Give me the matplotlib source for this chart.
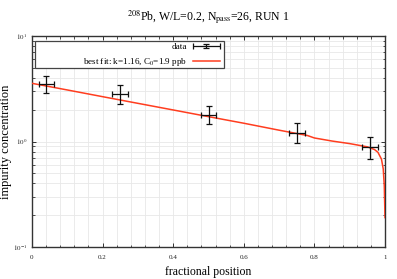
import matplotlib
matplotlib.use("Agg")
import matplotlib.pyplot as plt
from matplotlib.patches import Rectangle
from matplotlib.ticker import MultipleLocator, LogLocator, FixedLocator, FixedFormatter
from matplotlib.legend_handler import HandlerErrorbar
from matplotlib.container import ErrorbarContainer

plt.rcParams['font.family'] = ['Liberation Serif', 'DejaVu Serif']
plt.rcParams['mathtext.fontset'] = 'stix'

# data points
data_x = [0.04, 0.25, 0.50, 0.75, 0.958]
data_y = [3.5, 2.82, 1.77, 1.20, 0.893]
data_yerr_lo = [0.63, 0.57, 0.30, 0.225, 0.206]
data_yerr_hi = [0.70, 0.61, 0.40, 0.29, 0.207]
data_xerr = [0.021, 0.023, 0.022, 0.022, 0.023]

# best-fit curve
fit_x = [0.0, 0.1, 0.2, 0.3, 0.4, 0.5, 0.6, 0.7, 0.78, 0.80, 0.85, 0.90,
         0.95, 0.97, 0.98, 0.99, 0.995, 0.998, 1.0]
fit_y = [3.56, 3.08, 2.66, 2.30, 1.99, 1.72, 1.49, 1.28, 1.14, 1.08, 1.01,
         0.955, 0.89, 0.84, 0.79, 0.68, 0.55, 0.38, 0.19]

x_ticks = [0, 0.2, 0.4, 0.6, 0.8, 1.0]
x_ticklabels = ["0", "0.2", "0.4", "0.6", "0.8", "1"]
y_ticks = [0.1, 1, 10]
y_ticklabels = ["$10^{-1}$", "$10^{0}$", "$10^{1}$"]

title = "$^{208}$Pb, W/L=0.2, N$_{\\mathrm{pass}}$=26, RUN 1"
label_data = "data"
label_fit = "best fit: k=1.16, C$_0$=1.9 ppb"

fig = plt.figure(figsize=(3.97, 2.79), dpi=100)
ax = fig.add_axes([32/397, 1-247/279, 353/397, 211/279])

ax.set_yscale('log')
ax.set_xlim(0, 1)
ax.set_ylim(0.1, 10)

fit_line, = ax.plot(fit_x, fit_y, color='#ff3d1f', lw=1.1, label=label_fit, zorder=3)
eb = ax.errorbar(data_x, data_y, yerr=[data_yerr_lo, data_yerr_hi], xerr=data_xerr,
                 fmt='none', ecolor='#111111', elinewidth=0.9, capsize=2.0,
                 capthick=0.9, label=label_data, zorder=4)

ax.xaxis.set_major_locator(FixedLocator(x_ticks))
ax.xaxis.set_major_formatter(FixedFormatter(x_ticklabels))
ax.xaxis.set_minor_locator(MultipleLocator(0.04))
ax.yaxis.set_major_locator(FixedLocator(y_ticks))
ax.yaxis.set_major_formatter(FixedFormatter(y_ticklabels))
ax.yaxis.set_minor_locator(LogLocator(base=10, subs=range(2, 10)))

ax.grid(True, which='both', color='#e8e8e8', lw=0.6, zorder=0)
ax.set_axisbelow(True)
ax.tick_params(which='both', direction='in', top=True, right=True,
               colors='#333333', labelcolor='#222222', labelsize=5)
ax.tick_params(which='major', length=3, width=0.7)
ax.tick_params(which='minor', length=1.8, width=0.6)
ax.tick_params(axis='x', pad=6)
for s in ax.spines.values():
    s.set_color('#333333')
    s.set_linewidth(1.0)

ax.set_xlabel("fractional position", fontsize=8.5, labelpad=4)
ax.set_ylabel("impurity concentration", fontsize=9)
ax.yaxis.set_label_coords((12-32)/353, 0.5)
fig.text(208.5/397, 1-17/279, title, ha='center', va='center', fontsize=8.5)

# legend box
rect = Rectangle((0.0085, 0.848), 0.535, 0.128, transform=ax.transAxes,
                 facecolor='white', edgecolor='#444444', lw=0.9, zorder=5)
ax.add_patch(rect)
fs = 6.6
leg = ax.legend([eb, fit_line], [label_data, label_fit], loc='upper right',
                bbox_to_anchor=((220-32)/353, 1-(42.5-36)/211),
                frameon=False, markerfirst=False, fontsize=fs, handlelength=2.95,
                handletextpad=0.6, labelspacing=0.55, borderpad=0, borderaxespad=0,
                handler_map={ErrorbarContainer: HandlerErrorbar(xerr_size=1.45, yerr_size=0.2)})
leg.set_zorder(6)

fig.savefig("out.png", dpi=100)
